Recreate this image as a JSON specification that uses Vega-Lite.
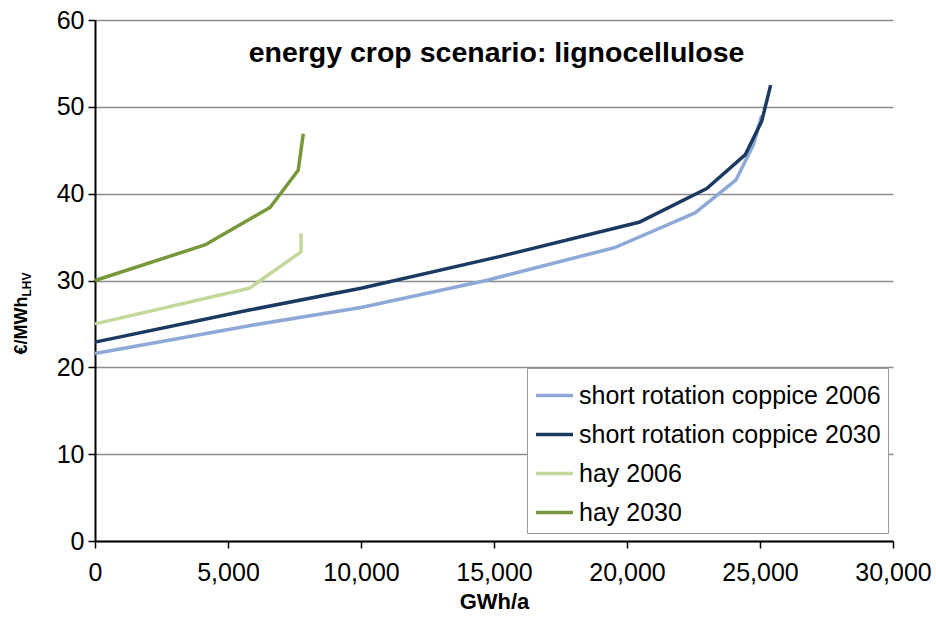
{
  "$schema": "https://vega.github.io/schema/vega-lite/v6.json",
  "autosize": {"type": "none"},
  "width": 798,
  "height": 521,
  "padding": {"left": 95, "top": 20, "right": 43, "bottom": 78},
  "background": "white",
  "config": {
    "font": "Liberation Sans",
    "view": {"stroke": null},
    "axis": {"labelFont": "Liberation Sans", "titleFont": "Liberation Sans", "labelColor": "#000", "titleColor": "#000"}
  },
  "data": {
    "values": [
      {"series": "short rotation coppice 2006", "x": 0, "y": 21.6},
      {"series": "short rotation coppice 2006", "x": 5800, "y": 24.8},
      {"series": "short rotation coppice 2006", "x": 10000, "y": 26.9},
      {"series": "short rotation coppice 2006", "x": 14700, "y": 30.0},
      {"series": "short rotation coppice 2006", "x": 19550, "y": 33.8},
      {"series": "short rotation coppice 2006", "x": 22560, "y": 37.8},
      {"series": "short rotation coppice 2006", "x": 24100, "y": 41.6},
      {"series": "short rotation coppice 2006", "x": 24750, "y": 45.6},
      {"series": "short rotation coppice 2006", "x": 25060, "y": 49.0},
      {"series": "short rotation coppice 2030", "x": 0, "y": 22.9},
      {"series": "short rotation coppice 2030", "x": 5800, "y": 26.6},
      {"series": "short rotation coppice 2030", "x": 10000, "y": 29.1},
      {"series": "short rotation coppice 2030", "x": 15200, "y": 32.75},
      {"series": "short rotation coppice 2030", "x": 20450, "y": 36.7},
      {"series": "short rotation coppice 2030", "x": 23000, "y": 40.6},
      {"series": "short rotation coppice 2030", "x": 24450, "y": 44.5},
      {"series": "short rotation coppice 2030", "x": 25060, "y": 48.3},
      {"series": "short rotation coppice 2030", "x": 25400, "y": 52.5},
      {"series": "hay 2006", "x": 0, "y": 25.0},
      {"series": "hay 2006", "x": 5800, "y": 29.1},
      {"series": "hay 2006", "x": 7745, "y": 33.3},
      {"series": "hay 2006", "x": 7745, "y": 35.4},
      {"series": "hay 2030", "x": 0, "y": 30.0},
      {"series": "hay 2030", "x": 4130, "y": 34.1},
      {"series": "hay 2030", "x": 6580, "y": 38.4},
      {"series": "hay 2030", "x": 7640, "y": 42.7},
      {"series": "hay 2030", "x": 7830, "y": 46.9}
    ]
  },
  "layer": [
    {
      "mark": {"type": "line", "strokeWidth": 3.5, "strokeJoin": "round"},
      "encoding": {
        "x": {
          "field": "x", "type": "quantitative",
          "scale": {"domain": [0, 30000], "nice": false},
          "axis": {
            "orient": "bottom",
            "values": [0, 5000, 10000, 15000, 20000, 25000, 30000],
            "format": ",.0f",
            "grid": false,
            "labelFlush": false,
            "labelOverlap": false,
            "domainColor": "#000", "domainWidth": 2,
            "tickColor": "#000", "tickWidth": 1.5, "tickSize": 7,
            "labelFontSize": 25, "labelPadding": 12,
            "title": "GWh/a", "titleFontSize": 22, "titleFontWeight": "bold",
            "titlePadding": 6
          }
        },
        "y": {
          "field": "y", "type": "quantitative",
          "scale": {"domain": [0, 60], "nice": false},
          "axis": {
            "orient": "left",
            "values": [0, 10, 20, 30, 40, 50, 60],
            "grid": true, "gridColor": "#8c8c8c", "gridWidth": 1.5,
            "labelFlush": false,
            "labelOverlap": false,
            "domainColor": "#000", "domainWidth": 2,
            "tickColor": "#000", "tickWidth": 1.5, "tickSize": 7,
            "labelFontSize": 25, "labelPadding": 4,
            "title": "€/MWh", "titleFontSize": 18, "titleFontWeight": "bold",
            "titleAngle": -90, "titleAlign": "center", "titleBaseline": "alphabetic",
            "titleX": -69, "titleY": 305
          }
        },
        "color": {
          "field": "series", "type": "nominal",
          "scale": {
            "domain": ["short rotation coppice 2006", "short rotation coppice 2030", "hay 2006", "hay 2030"],
            "range": ["#8EA9D6", "#1B3A62", "#C3D89B", "#77983A"]
          },
          "legend": {
            "title": null,
            "orient": "none",
            "legendX": 432,
            "legendY": 348,
            "direction": "vertical",
            "fillColor": "white",
            "strokeColor": "#9a9a9a",
            "padding": 7,
            "rowPadding": 5,
            "symbolType": "stroke",
            "symbolSize": 1369,
            "symbolStrokeWidth": 3.5,
            "labelFontSize": 25,
            "labelColor": "#000",
            "labelFont": "Liberation Sans",
            "labelOffset": 4,
            "labelLimit": 500
          }
        },
        "order": {"field": "y", "type": "quantitative"}
      }
    },
    {
      "mark": {"type": "point", "opacity": 0},
      "encoding": {
        "x": {
          "field": "x", "type": "quantitative",
          "axis": {
            "orient": "top",
            "labels": false, "ticks": false, "domain": false, "grid": false,
            "title": "energy crop scenario: lignocellulose",
            "titleFontSize": 28.5, "titleFontWeight": "bold", "titleColor": "#000",
            "titleAlign": "center", "titleBaseline": "middle",
            "titleX": 401, "titleY": 32
          }
        },
        "y": {
          "field": "y", "type": "quantitative",
          "axis": {
            "orient": "left",
            "labels": false, "ticks": false, "domain": false, "grid": false,
            "title": "LHV", "titleFontSize": 12, "titleFontWeight": "bold",
            "titleColor": "#000",
            "titleAngle": -90, "titleAlign": "center", "titleBaseline": "alphabetic",
            "titleX": -65, "titleY": 264
          }
        }
      }
    }
  ],
  "resolve": {"axis": {"x": "independent", "y": "independent"}}
}
